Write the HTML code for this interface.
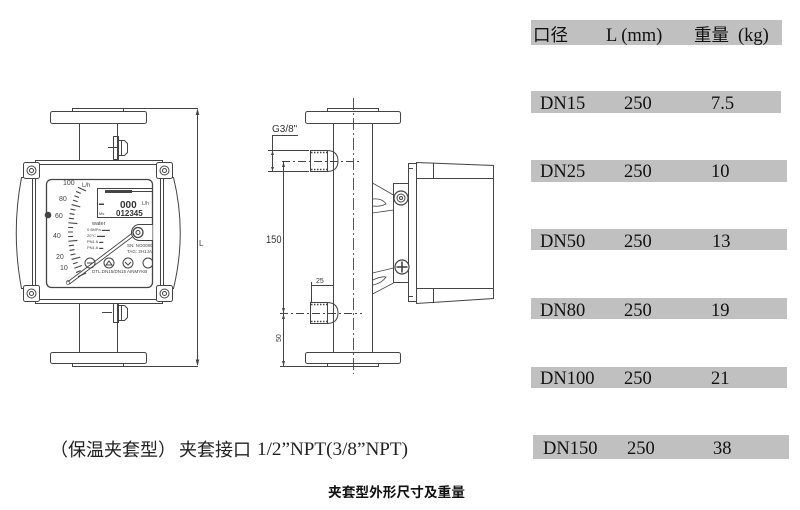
<!DOCTYPE html>
<html><head><meta charset="utf-8"><style>
html,body{margin:0;padding:0;background:#fff;}
body{width:800px;height:510px;overflow:hidden;}
svg{display:block;}
.t{font-family:"Liberation Serif","Noto Serif CJK SC",serif;font-size:18.5px;fill:#111;}
.c{font-family:"Liberation Sans","Noto Sans CJK SC",sans-serif;}
.s{font-family:"Liberation Sans",sans-serif;fill:#444;stroke:none;}
</style></head><body>
<svg width="800" height="510" viewBox="0 0 800 510" xmlns="http://www.w3.org/2000/svg">
<defs>
<clipPath id="win"><rect x="46.5" y="179.5" width="106" height="108" rx="5"/></clipPath>
</defs>

<!-- ============ LEFT DRAWING ============ -->
<g fill="none" stroke="#444" stroke-width="1">
  <rect x="72.5" y="108.5" width="51" height="3"/>
  <rect x="50.5" y="111.5" width="96" height="12" rx="2"/>
  <line x1="123" y1="108.5" x2="198" y2="108.5"/>
  <line x1="197.5" y1="110" x2="197.5" y2="365"/>
  <line x1="123" y1="366.5" x2="198" y2="366.5"/>
  <rect x="72.5" y="363.5" width="51" height="3"/>
  <rect x="50.5" y="352.5" width="96" height="11" rx="2"/>
  <line x1="79.5" y1="123.5" x2="79.5" y2="160"/>
  <line x1="117.5" y1="123.5" x2="117.5" y2="160"/>
  <line x1="79.5" y1="303" x2="79.5" y2="352.5"/>
  <line x1="117.5" y1="303" x2="117.5" y2="352.5"/>
  <rect x="113.5" y="136.5" width="5" height="23"/>
  <path d="M118.5,140.5 h6 l3,3 v9 l-3,3 h-6 z"/>
  <line x1="121.5" y1="140.5" x2="121.5" y2="155.5"/>
  <line x1="108" y1="147.5" x2="118" y2="147.5"/>
  <rect x="113.5" y="303.5" width="5" height="19"/>
  <path d="M118.5,305.5 h6 l3,3 v9 l-3,3 h-6 z"/>
  <line x1="121.5" y1="305.5" x2="121.5" y2="320.5"/>
  <line x1="102" y1="312.5" x2="112" y2="312.5"/>

  <rect x="35.5" y="160.5" width="127" height="143" fill="#fff"/>
  <line x1="38" y1="164.5" x2="160" y2="164.5"/>
  <line x1="38" y1="299.5" x2="160" y2="299.5"/>
  <path d="M35.5,177.5 L21.5,177.5 Q11,232.5 21.5,288.5 L35.5,288.5 Z" fill="#fff"/>
  <line x1="32.5" y1="178" x2="32.5" y2="288"/>
  <path d="M160.5,177.5 L173.5,177.5 Q187,232.5 173.5,288.5 L160.5,288.5 Z" fill="#fff"/>
  <line x1="163.5" y1="178" x2="163.5" y2="288"/>
  <rect x="23.5" y="162.5" width="16" height="16" rx="2" fill="#fff"/>
  <circle cx="31.5" cy="170.5" r="4.5"/><circle cx="31.5" cy="170.5" r="2"/>
  <rect x="156.5" y="162.5" width="16" height="16" rx="2" fill="#fff"/>
  <circle cx="164.5" cy="170.5" r="4.5"/><circle cx="164.5" cy="170.5" r="2"/>
  <rect x="23.5" y="285.5" width="16" height="16" rx="2" fill="#fff"/>
  <circle cx="31.5" cy="293.5" r="4.5"/><circle cx="31.5" cy="293.5" r="2"/>
  <rect x="156.5" y="285.5" width="16" height="16" rx="2" fill="#fff"/>
  <circle cx="164.5" cy="293.5" r="4.5"/><circle cx="164.5" cy="293.5" r="2"/>

  <rect x="46.5" y="179.5" width="106" height="108" rx="5" fill="#fff" stroke-width="1.3"/>
  <g clip-path="url(#win)">
    <g stroke-width="1.1">
      <line x1="68" y1="232" x2="77" y2="232" transform="rotate(-25 174 232)"/>
      <line x1="68" y1="232" x2="73" y2="232" transform="rotate(-22.5 174 232)"/>
      <line x1="68" y1="232" x2="76" y2="232" transform="rotate(-20 174 232)"/>
      <line x1="68" y1="232" x2="73" y2="232" transform="rotate(-17.5 174 232)"/>
      <line x1="68" y1="232" x2="77" y2="232" transform="rotate(-15 174 232)"/>
      <line x1="68" y1="232" x2="73" y2="232" transform="rotate(-12.5 174 232)"/>
      <line x1="68" y1="232" x2="73" y2="232" transform="rotate(-10 174 232)"/>
      <line x1="68" y1="232" x2="73" y2="232" transform="rotate(-7.5 174 232)"/>
      <line x1="68" y1="232" x2="77" y2="232" transform="rotate(-5 174 232)"/>
      <line x1="68" y1="232" x2="73" y2="232" transform="rotate(-2.5 174 232)"/>
      <line x1="68" y1="232" x2="73" y2="232" transform="rotate(0 174 232)"/>
      <line x1="68" y1="232" x2="73" y2="232" transform="rotate(2.5 174 232)"/>
      <line x1="68" y1="232" x2="77" y2="232" transform="rotate(5 174 232)"/>
      <line x1="68" y1="232" x2="73" y2="232" transform="rotate(7.5 174 232)"/>
      <line x1="68" y1="232" x2="73" y2="232" transform="rotate(10 174 232)"/>
      <line x1="68" y1="232" x2="73" y2="232" transform="rotate(12.5 174 232)"/>
      <line x1="68" y1="232" x2="77" y2="232" transform="rotate(15 174 232)"/>
      <line x1="68" y1="232" x2="73" y2="232" transform="rotate(17.5 174 232)"/>
      <line x1="68" y1="232" x2="73" y2="232" transform="rotate(20 174 232)"/>
      <line x1="68" y1="232" x2="73" y2="232" transform="rotate(22.5 174 232)"/>
      <line x1="68" y1="232" x2="77" y2="232" transform="rotate(25 174 232)"/>
    </g>
    <rect x="97.5" y="188.5" width="60" height="29"/>
    <rect x="105" y="190" width="27" height="3" fill="#444" stroke="none"/>
    <line x1="132" y1="191.5" x2="152" y2="191.5"/>
    <line x1="67.5" y1="282" x2="135" y2="231" stroke-width="0.9"/>
    <line x1="69.5" y1="284" x2="137" y2="233.5" stroke-width="0.9"/>
    <rect x="131.5" y="224.5" width="30" height="16" rx="8" fill="#fff"/>
    <circle cx="138" cy="232.5" r="5" fill="#fff" stroke-width="1.3"/>
    <circle cx="138" cy="232.5" r="2"/>
    <circle cx="90" cy="263" r="5"/>
    <circle cx="109" cy="263" r="5"/>
    <circle cx="128" cy="263" r="5"/>
    <circle cx="148" cy="263" r="5"/>
    <line x1="87" y1="263" x2="93" y2="263"/>
    <path d="M106,265 l3,-4 l3,4 z"/>
    <path d="M125,262 l3,3 l3,-3"/>
  </g>
  <circle cx="48" cy="215" r="2.8" fill="#444"/>
  <polygon points="197.5,108.5 195.7,115 199.3,115" fill="#444" stroke="none"/>
  <polygon points="197.5,366 195.7,359.5 199.3,359.5" fill="#444" stroke="none"/>
</g>
<g class="s" clip-path="url(#win)">
  <text x="63" y="185" font-size="7">100</text>
  <text x="59" y="201" font-size="7">80</text>
  <text x="55" y="218" font-size="7">60</text>
  <text x="53" y="238" font-size="7">40</text>
  <text x="56" y="259" font-size="7">20</text>
  <text x="60" y="270" font-size="7">10</text>
  <text x="66" y="285" font-size="7">0</text>
  <text x="82" y="187" font-size="6">L/h</text>
  <text x="120" y="208" font-size="10" font-weight="bold" fill="#333">000</text>
  <text x="142" y="205" font-size="5">L/h</text>
  <text x="116" y="216" font-size="8" font-weight="bold" fill="#333">012345</text>
  <text x="99" y="205" font-size="5">▬</text>
  <text x="99" y="215" font-size="4">Ms</text>
  <text x="92" y="225" font-size="5.5">water</text>
  <text x="87" y="231" font-size="4">0.6MPa ▬▬</text>
  <text x="87" y="237" font-size="4">20°C  ▬▬</text>
  <text x="87" y="243" font-size="4">PN1.6 ▬</text>
  <text x="87" y="249" font-size="4">PN1.6 ▬</text>
  <text x="127" y="247" font-size="4.5">SN: NO0080</text>
  <text x="127" y="253" font-size="4.5">TAG: 2H1JA</text>
  <text x="92" y="273" font-size="4.5">DTL.DN15/DN15 AINMYKB</text>
</g>
<text x="199" y="246" font-size="8" class="s">L</text>

<!-- ============ MIDDLE DRAWING ============ -->
<g fill="none" stroke="#444" stroke-width="1">
  <rect x="327.5" y="108.5" width="51" height="3"/>
  <rect x="305.5" y="111.5" width="95" height="12" rx="2"/>
  <rect x="327.5" y="363.5" width="51" height="3"/>
  <rect x="305.5" y="352.5" width="95" height="11" rx="2"/>
  <line x1="333.5" y1="123.5" x2="333.5" y2="352.5"/>
  <line x1="372.5" y1="123.5" x2="372.5" y2="352.5"/>
  <line x1="353.5" y1="98" x2="353.5" y2="374" stroke-dasharray="12,3,2,3" stroke-width="0.9"/>
  <rect x="310.5" y="150.5" width="17" height="21" fill="#fff"/>
  <line x1="311" y1="152.5" x2="327" y2="152.5" stroke-dasharray="1.5,1.5" stroke-width="1.5"/>
  <line x1="311" y1="169.5" x2="327" y2="169.5" stroke-dasharray="1.5,1.5" stroke-width="1.5"/>
  <path d="M327.5,150.5 Q338,151 338,161 Q338,171 327.5,171.5"/>
  <line x1="282" y1="161.5" x2="362" y2="161.5" stroke-dasharray="8,3,2,3" stroke-width="0.9"/>
  <rect x="310.5" y="302.5" width="17" height="21" fill="#fff"/>
  <line x1="311" y1="304.5" x2="327" y2="304.5" stroke-dasharray="1.5,1.5" stroke-width="1.5"/>
  <line x1="311" y1="321.5" x2="327" y2="321.5" stroke-dasharray="1.5,1.5" stroke-width="1.5"/>
  <path d="M327.5,302.5 Q338,303 338,313 Q338,323 327.5,323.5"/>
  <line x1="280" y1="313.5" x2="362" y2="313.5" stroke-dasharray="8,3,2,3" stroke-width="0.9"/>
  <line x1="272" y1="135.5" x2="298" y2="135.5"/>
  <line x1="272.5" y1="135" x2="272.5" y2="172"/>
  <line x1="268" y1="150.5" x2="309" y2="150.5"/>
  <line x1="268" y1="171.5" x2="309" y2="171.5"/>
  <polygon points="272.5,151 271,155 274,155" fill="#444" stroke="none"/>
  <polygon points="272.5,171 271,167 274,167" fill="#444" stroke="none"/>
  <line x1="283.5" y1="162" x2="283.5" y2="366"/>
  <polygon points="283.5,162 282,167 285,167" fill="#444" stroke="none"/>
  <polygon points="283.5,313 282,308 285,308" fill="#444" stroke="none"/>
  <polygon points="283.5,314 282,319 285,319" fill="#444" stroke="none"/>
  <polygon points="283.5,366 282,361 285,361" fill="#444" stroke="none"/>
  <line x1="280" y1="366.5" x2="327" y2="366.5"/>
  <line x1="311" y1="285.5" x2="333" y2="285.5"/>
  <line x1="311.5" y1="282" x2="311.5" y2="302"/>
  <!-- gussets -->
  <g stroke-width="0.8">
    <line x1="372.5" y1="183" x2="393.5" y2="195"/>
    <line x1="372.5" y1="213" x2="393.5" y2="210"/>
    <path d="M373,199 Q382,198 386,204 Q380,207 373,206"/>
    <line x1="372.5" y1="273" x2="393.5" y2="268"/>
    <line x1="372.5" y1="294" x2="393.5" y2="283"/>
    <path d="M373,280 Q381,276 386,277 Q382,283 373,285"/>
  </g>
  <rect x="393.5" y="183.5" width="15" height="99" fill="#fff"/>
  <rect x="408.5" y="163.5" width="8" height="138" fill="#fff"/>
  <line x1="408.5" y1="168.5" x2="413" y2="168.5"/>
  <line x1="408.5" y1="296.5" x2="413" y2="296.5"/>
  <polygon points="416.5,162.5 493.5,165.5 493.5,298.5 416.5,303.5" fill="#fff"/>
  <line x1="416.5" y1="178.5" x2="493.5" y2="178.5"/>
  <line x1="416.5" y1="288.5" x2="493.5" y2="288.5"/>
  <line x1="433.5" y1="163" x2="433.5" y2="178"/>
  <line x1="433.5" y1="289" x2="433.5" y2="303"/>
  <circle cx="401" cy="198" r="7" fill="#fff" stroke-width="1.2"/>
  <circle cx="401" cy="198" r="4"/>
  <circle cx="401" cy="198" r="1.5"/>
  <circle cx="402" cy="267" r="7" fill="#fff" stroke-width="1.2"/>
  <line x1="396.5" y1="267" x2="407.5" y2="267" stroke-width="1.6"/>
  <line x1="402" y1="261.5" x2="402" y2="272.5" stroke-width="1.6"/>
</g>
<g class="s">
  <text x="272" y="132" font-size="10" fill="#333">G3/8"</text>
  <text x="266" y="243" font-size="11" fill="#333" transform="translate(266 243) scale(0.85 1) translate(-266 -243)">150</text>
  <text x="316" y="283" font-size="7" fill="#333">25</text>
  <text x="0" y="0" font-size="7" fill="#333" transform="translate(281 342) rotate(-90)">50</text>
</g>

<!-- ============ TABLE ============ -->
<g fill="#c0c0c0">
  <rect x="531" y="20" width="251" height="25"/>
  <rect x="531" y="91" width="250" height="22"/>
  <rect x="531" y="160" width="256" height="22"/>
  <rect x="531" y="229" width="256" height="21"/>
  <rect x="531" y="298" width="256" height="21"/>
  <rect x="531" y="367" width="256" height="21"/>
  <rect x="533" y="435" width="256" height="24"/>
</g>
<g class="t">
  <text x="533" y="41" class="c" style="font-size:17.5px">口径</text>
  <text x="606" y="41">L (mm)</text>
  <text x="694" y="41" class="c" style="font-size:17.5px">重量</text>
  <text x="738" y="41">(kg)</text>

  <text x="540" y="109">DN15</text><text x="624" y="109">250</text><text x="711" y="109">7.5</text>
  <text x="540" y="177">DN25</text><text x="624" y="177">250</text><text x="711" y="177">10</text>
  <text x="540" y="247">DN50</text><text x="624" y="247">250</text><text x="712" y="247">13</text>
  <text x="540" y="316">DN80</text><text x="624" y="316">250</text><text x="711" y="316">19</text>
  <text x="540" y="384">DN100</text><text x="624" y="384">250</text><text x="711" y="384">21</text>
  <text x="543" y="454">DN150</text><text x="627" y="454">250</text><text x="713" y="454">38</text>
</g>

<!-- ============ CAPTIONS ============ -->
<g style="font-family:'Liberation Serif','Noto Sans CJK SC',sans-serif;" fill="#222">
  <text x="50" y="456" font-size="18" class="c">（保温夹套型）</text>
  <text x="179" y="456" font-size="18" class="c">夹套接口</text>
  <text x="257" y="455" font-size="18.5" textLength="151" lengthAdjust="spacingAndGlyphs" style="font-family:'Liberation Serif',serif;">1/2”NPT(3/8”NPT)</text>
</g>
<text x="328" y="497" font-size="13.7" font-weight="bold" fill="#111" style="font-family:'Liberation Sans','Noto Sans CJK SC',sans-serif;">夹套型外形尺寸及重量</text>
</svg>
</body></html>
